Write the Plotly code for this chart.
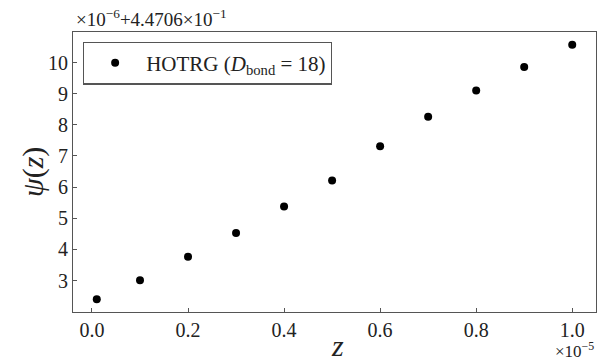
import plotly.graph_objects as go

# z in units of 1e-5
z_scaled = [0.01, 0.1, 0.2, 0.3, 0.4, 0.5, 0.6, 0.7, 0.8, 0.9, 1.0]
# psi(z) in units of 1e-6, offset by 0.44706
psi_offset = [2.40, 3.01, 3.76, 4.53, 5.38, 6.21, 7.31, 8.26, 9.10, 9.86, 10.57]

x_ticks = [0.0, 0.2, 0.4, 0.6, 0.8, 1.0]
x_ticklabels = ["0.0", "0.2", "0.4", "0.6", "0.8", "1.0"]
y_ticks = [3, 4, 5, 6, 7, 8, 9, 10]

FONT = "Liberation Serif, Times New Roman, DejaVu Serif, serif"
AXC = "#555555"
TXT = "#222222"

fig = go.Figure()
fig.add_trace(go.Scatter(
    x=z_scaled, y=psi_offset, mode="markers",
    marker=dict(color="black", size=8),
    name="HOTRG (<i>D</i><sub>bond</sub> = 18)",
))

fig.update_layout(
    width=601, height=363,
    margin=dict(l=73, r=5, t=32, b=51),
    paper_bgcolor="white", plot_bgcolor="white",
    font=dict(family=FONT, color=TXT, size=20),
    showlegend=True,
    legend=dict(
        x=0.019, y=0.966, xanchor="left", yanchor="top",
        bordercolor=AXC, borderwidth=1.2, bgcolor="white",
        font=dict(family=FONT, size=21, color=TXT),
        itemwidth=52,
        tracegroupgap=0,
    ),
    xaxis=dict(
        range=[-0.0395, 1.0495], tickvals=x_ticks, ticktext=x_ticklabels,
        ticks="inside", ticklen=4, tickcolor=AXC, showgrid=False, zeroline=False,
        showline=True, linecolor=AXC, linewidth=1.2, mirror=True,
        tickfont=dict(family=FONT, size=20, color=TXT),
    ),
    yaxis=dict(
        range=[1.99, 10.98], tickvals=y_ticks,
        ticks="inside", ticklen=4, tickcolor=AXC, showgrid=False, zeroline=False,
        showline=True, linecolor=AXC, linewidth=1.2, mirror=True,
        tickfont=dict(family=FONT, size=20, color=TXT),
        ticklabelstandoff=0,
    ),
)

fig.add_annotation(
    text="<i>z</i>", xref="paper", yref="paper", x=0.505, y=0, yshift=-52,
    xanchor="center", yanchor="bottom", showarrow=False,
    font=dict(family=FONT, size=30, color=TXT),
)
fig.add_annotation(
    text="<i>ψ</i>(<i>z</i>)", xref="paper", yref="paper", x=0, y=0.5, xshift=-40,
    xanchor="center", yanchor="middle", showarrow=False, textangle=-90,
    font=dict(family=FONT, size=30, color=TXT),
)
fig.add_annotation(
    text="×10<sup>−5</sup>", xref="paper", yref="paper", x=1, y=0, yshift=-51,
    xanchor="right", yanchor="bottom", showarrow=False,
    font=dict(family=FONT, size=17, color=TXT),
)
fig.add_annotation(
    text="×10<sup>−6</sup>+4.4706×10<sup>−1</sup>", xref="paper", yref="paper",
    x=0, y=1, xshift=1, yshift=0, xanchor="left", yanchor="bottom", showarrow=False,
    font=dict(family=FONT, size=19, color=TXT),
)

fig.write_html(
    "out.html",
    config={"displayModeBar": False},
    post_script="document.body.style.margin='0';document.body.style.overflow='hidden';",
)
